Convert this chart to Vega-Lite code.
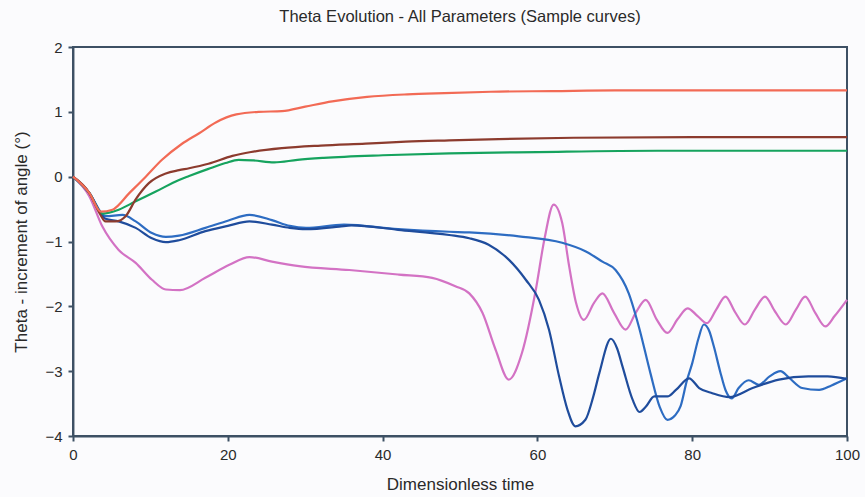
{
  "$schema": "https://vega.github.io/schema/vega-lite/v6.json",
  "width": 774,
  "height": 389,
  "padding": {"left": 73, "top": 47, "right": 18, "bottom": 61},
  "autosize": "none",
  "background": "#fbfbfd",
  "title": {"text": "Theta Evolution - All Parameters (Sample curves)", "font": "Liberation Sans", "fontSize": 16.5, "fontWeight": "normal", "color": "#2a2a2a", "anchor": "middle", "offset": 15},
  "config": {
    "axis": {"domainColor": "#3d5064", "domainWidth": 2, "tickColor": "#3d5064", "tickWidth": 2, "grid": false, "labelFlush": false, "labelPadding": 6, "labelFont": "Liberation Sans", "labelFontSize": 15, "labelColor": "#2a2a2a", "titleFont": "Liberation Sans", "titleFontSize": 17, "titleFontWeight": "normal", "titleColor": "#2a2a2a", "titlePadding": 14}
  },
  "datasets": {
    "frame": [{"x0": 0, "x1": 100, "y0": -4, "y1": 2}]
  },
  "data": {"values": [
    {"s":"pink","t":0,"v":0},{"s":"pink","t":2.1,"v":-0.3},{"s":"pink","t":3.8,"v":-0.77},{"s":"pink","t":5.9,"v":-1.13},{"s":"pink","t":8.1,"v":-1.33},{"s":"pink","t":10.2,"v":-1.59},{"s":"pink","t":12,"v":-1.74},{"s":"pink","t":13.8,"v":-1.75},{"s":"pink","t":17.1,"v":-1.56},{"s":"pink","t":20.2,"v":-1.36},{"s":"pink","t":22.8,"v":-1.24},{"s":"pink","t":25.7,"v":-1.31},{"s":"pink","t":29.2,"v":-1.38},{"s":"pink","t":35.7,"v":-1.44},{"s":"pink","t":42.1,"v":-1.51},{"s":"pink","t":46.4,"v":-1.56},{"s":"pink","t":49.4,"v":-1.69},{"s":"pink","t":51.2,"v":-1.8},{"s":"pink","t":52.9,"v":-2.1},{"s":"pink","t":54.6,"v":-2.67},{"s":"pink","t":56.3,"v":-3.13},{"s":"pink","t":58,"v":-2.72},{"s":"pink","t":59.8,"v":-1.74},{"s":"pink","t":60.9,"v":-0.97},{"s":"pink","t":62.1,"v":-0.43},{"s":"pink","t":63.2,"v":-0.71},{"s":"pink","t":64.1,"v":-1.38},{"s":"pink","t":65,"v":-1.95},{"s":"pink","t":66,"v":-2.21},{"s":"pink","t":67.3,"v":-1.95},{"s":"pink","t":68.4,"v":-1.8},{"s":"pink","t":69.9,"v":-2.1},{"s":"pink","t":71.4,"v":-2.36},{"s":"pink","t":72.7,"v":-2.1},{"s":"pink","t":74,"v":-1.9},{"s":"pink","t":75.4,"v":-2.2},{"s":"pink","t":76.8,"v":-2.41},{"s":"pink","t":78.1,"v":-2.2},{"s":"pink","t":79.4,"v":-2.03},{"s":"pink","t":80.7,"v":-2.15},{"s":"pink","t":81.9,"v":-2.26},{"s":"pink","t":83.1,"v":-2.05},{"s":"pink","t":84.3,"v":-1.85},{"s":"pink","t":85.5,"v":-2.08},{"s":"pink","t":86.8,"v":-2.28},{"s":"pink","t":88.1,"v":-2.05},{"s":"pink","t":89.4,"v":-1.85},{"s":"pink","t":90.7,"v":-2.08},{"s":"pink","t":92.1,"v":-2.28},{"s":"pink","t":93.4,"v":-2.05},{"s":"pink","t":94.6,"v":-1.85},{"s":"pink","t":95.9,"v":-2.1},{"s":"pink","t":97.2,"v":-2.31},{"s":"pink","t":98.4,"v":-2.15},{"s":"pink","t":100,"v":-1.9},

    {"s":"blueA","t":0,"v":0},{"s":"blueA","t":2.1,"v":-0.25},{"s":"blueA","t":4.2,"v":-0.61},{"s":"blueA","t":6.4,"v":-0.59},{"s":"blueA","t":8.1,"v":-0.69},{"s":"blueA","t":10.2,"v":-0.87},{"s":"blueA","t":12,"v":-0.93},{"s":"blueA","t":13.7,"v":-0.91},{"s":"blueA","t":17.1,"v":-0.79},{"s":"blueA","t":20,"v":-0.68},{"s":"blueA","t":22.8,"v":-0.59},{"s":"blueA","t":25.7,"v":-0.67},{"s":"blueA","t":28,"v":-0.76},{"s":"blueA","t":30.1,"v":-0.79},{"s":"blueA","t":35,"v":-0.74},{"s":"blueA","t":42,"v":-0.81},{"s":"blueA","t":48.6,"v":-0.85},{"s":"blueA","t":51.2,"v":-0.86},{"s":"blueA","t":57.6,"v":-0.92},{"s":"blueA","t":63.2,"v":-1.02},{"s":"blueA","t":66.2,"v":-1.15},{"s":"blueA","t":68.4,"v":-1.31},{"s":"blueA","t":70.1,"v":-1.44},{"s":"blueA","t":71.8,"v":-1.8},{"s":"blueA","t":73.1,"v":-2.31},{"s":"blueA","t":74.6,"v":-3.03},{"s":"blueA","t":75.8,"v":-3.55},{"s":"blueA","t":76.8,"v":-3.75},{"s":"blueA","t":77.8,"v":-3.68},{"s":"blueA","t":78.5,"v":-3.54},{"s":"blueA","t":79.3,"v":-3.15},{"s":"blueA","t":80,"v":-2.88},{"s":"blueA","t":80.8,"v":-2.5},{"s":"blueA","t":81.5,"v":-2.28},{"s":"blueA","t":82.2,"v":-2.38},{"s":"blueA","t":82.8,"v":-2.62},{"s":"blueA","t":83.6,"v":-3.0},{"s":"blueA","t":84.3,"v":-3.29},{"s":"blueA","t":85.1,"v":-3.42},{"s":"blueA","t":86,"v":-3.26},{"s":"blueA","t":87.3,"v":-3.14},{"s":"blueA","t":88.6,"v":-3.21},{"s":"blueA","t":90,"v":-3.08},{"s":"blueA","t":91.4,"v":-3.0},{"s":"blueA","t":92.5,"v":-3.1},{"s":"blueA","t":94.2,"v":-3.26},{"s":"blueA","t":96.4,"v":-3.29},{"s":"blueA","t":98,"v":-3.22},{"s":"blueA","t":100,"v":-3.11},

    {"s":"blueB","t":0,"v":0},{"s":"blueB","t":2.1,"v":-0.25},{"s":"blueB","t":4.2,"v":-0.65},{"s":"blueB","t":5.9,"v":-0.69},{"s":"blueB","t":8.1,"v":-0.79},{"s":"blueB","t":10.2,"v":-0.95},{"s":"blueB","t":12,"v":-1.01},{"s":"blueB","t":13.7,"v":-0.98},{"s":"blueB","t":17.1,"v":-0.84},{"s":"blueB","t":20,"v":-0.76},{"s":"blueB","t":22.8,"v":-0.69},{"s":"blueB","t":25.7,"v":-0.74},{"s":"blueB","t":28,"v":-0.79},{"s":"blueB","t":30.1,"v":-0.81},{"s":"blueB","t":34.4,"v":-0.77},{"s":"blueB","t":36,"v":-0.75},{"s":"blueB","t":42,"v":-0.82},{"s":"blueB","t":48.6,"v":-0.9},{"s":"blueB","t":51.2,"v":-0.95},{"s":"blueB","t":53.7,"v":-1.05},{"s":"blueB","t":56.3,"v":-1.28},{"s":"blueB","t":58.5,"v":-1.59},{"s":"blueB","t":60.2,"v":-1.9},{"s":"blueB","t":61.5,"v":-2.36},{"s":"blueB","t":62.8,"v":-3.08},{"s":"blueB","t":63.9,"v":-3.6},{"s":"blueB","t":64.9,"v":-3.85},{"s":"blueB","t":66.2,"v":-3.75},{"s":"blueB","t":67.2,"v":-3.4},{"s":"blueB","t":68,"v":-3.03},{"s":"blueB","t":69.5,"v":-2.5},{"s":"blueB","t":70.3,"v":-2.65},{"s":"blueB","t":71,"v":-2.93},{"s":"blueB","t":72.3,"v":-3.44},{"s":"blueB","t":73.2,"v":-3.63},{"s":"blueB","t":74,"v":-3.55},{"s":"blueB","t":75.1,"v":-3.39},{"s":"blueB","t":76.8,"v":-3.39},{"s":"blueB","t":77.9,"v":-3.29},{"s":"blueB","t":79.6,"v":-3.11},{"s":"blueB","t":80.9,"v":-3.26},{"s":"blueB","t":82.6,"v":-3.34},{"s":"blueB","t":84.8,"v":-3.4},{"s":"blueB","t":87.8,"v":-3.26},{"s":"blueB","t":91.2,"v":-3.13},{"s":"blueB","t":95,"v":-3.08},{"s":"blueB","t":97.5,"v":-3.08},{"s":"blueB","t":100,"v":-3.12},

    {"s":"green","t":0,"v":0},{"s":"green","t":2.1,"v":-0.25},{"s":"green","t":3.8,"v":-0.57},{"s":"green","t":5.9,"v":-0.51},{"s":"green","t":8.1,"v":-0.38},{"s":"green","t":10.7,"v":-0.23},{"s":"green","t":13.7,"v":-0.05},{"s":"green","t":15,"v":0.01},{"s":"green","t":17.5,"v":0.12},{"s":"green","t":19.7,"v":0.21},{"s":"green","t":21.4,"v":0.26},{"s":"green","t":23.3,"v":0.25},{"s":"green","t":26,"v":0.22},{"s":"green","t":29,"v":0.26},{"s":"green","t":32.4,"v":0.29},{"s":"green","t":40,"v":0.33},{"s":"green","t":48.6,"v":0.36},{"s":"green","t":60,"v":0.38},{"s":"green","t":75.5,"v":0.4},{"s":"green","t":100,"v":0.4},

    {"s":"brown","t":0,"v":0},{"s":"brown","t":2.1,"v":-0.25},{"s":"brown","t":3.5,"v":-0.58},{"s":"brown","t":4.2,"v":-0.69},{"s":"brown","t":5.5,"v":-0.69},{"s":"brown","t":6.8,"v":-0.61},{"s":"brown","t":8.1,"v":-0.35},{"s":"brown","t":9.8,"v":-0.1},{"s":"brown","t":12,"v":0.05},{"s":"brown","t":13.7,"v":0.1},{"s":"brown","t":15,"v":0.13},{"s":"brown","t":17.5,"v":0.2},{"s":"brown","t":20.6,"v":0.32},{"s":"brown","t":23,"v":0.38},{"s":"brown","t":27,"v":0.44},{"s":"brown","t":32,"v":0.48},{"s":"brown","t":37.8,"v":0.51},{"s":"brown","t":43,"v":0.54},{"s":"brown","t":48.6,"v":0.56},{"s":"brown","t":55,"v":0.58},{"s":"brown","t":64.7,"v":0.6},{"s":"brown","t":80,"v":0.61},{"s":"brown","t":100,"v":0.61},

    {"s":"orange","t":0,"v":0},{"s":"orange","t":2.1,"v":-0.25},{"s":"orange","t":3.6,"v":-0.54},{"s":"orange","t":5.1,"v":-0.51},{"s":"orange","t":7.3,"v":-0.25},{"s":"orange","t":9.4,"v":0},{"s":"orange","t":11.5,"v":0.26},{"s":"orange","t":14,"v":0.5},{"s":"orange","t":16.3,"v":0.67},{"s":"orange","t":18.5,"v":0.84},{"s":"orange","t":21.1,"v":0.96},{"s":"orange","t":24,"v":1.0},{"s":"orange","t":27,"v":1.01},{"s":"orange","t":30,"v":1.08},{"s":"orange","t":33.5,"v":1.16},{"s":"orange","t":38,"v":1.23},{"s":"orange","t":43.2,"v":1.27},{"s":"orange","t":48,"v":1.29},{"s":"orange","t":54,"v":1.31},{"s":"orange","t":62,"v":1.32},{"s":"orange","t":70,"v":1.33},{"s":"orange","t":85,"v":1.33},{"s":"orange","t":100,"v":1.33}
  ]},
  "layer": [
    {
      "data": {"name": "frame"},
      "mark": {"type": "rect", "fill": "#ffffff", "fillOpacity": 0.1, "stroke": "#3d5064", "strokeWidth": 2},
      "encoding": {
        "x": {"field": "x0", "type": "quantitative", "scale": {"domain": [0, 100], "nice": false}},
        "x2": {"field": "x1"},
        "y": {"field": "y0", "type": "quantitative", "scale": {"domain": [-4, 2], "nice": false}},
        "y2": {"field": "y1"}
      }
    },
    {
      "mark": {"type": "line", "strokeWidth": 2.2, "interpolate": "monotone"},
      "encoding": {
        "x": {"field": "t", "type": "quantitative", "title": "Dimensionless time", "axis": {"tickCount": 5}},
        "y": {"field": "v", "type": "quantitative", "title": "Theta - increment of angle (°)", "axis": {"tickCount": 6}},
        "color": {"field": "s", "type": "nominal", "scale": {"domain": ["pink","blueA","blueB","green","brown","orange"], "range": ["#d372c4","#2d6cc2","#1f4c9c","#16a35e","#8c3b2e","#f26a55"]}, "legend": null}
      }
    }
  ]
}
